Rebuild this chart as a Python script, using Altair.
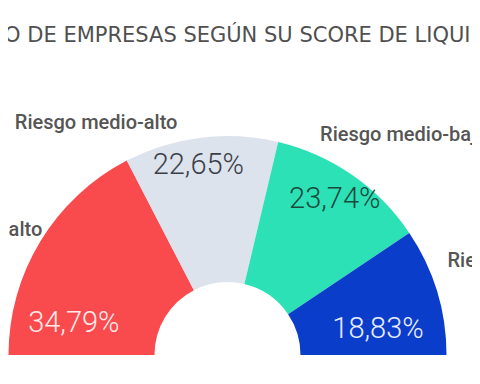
import math
import altair as alt
import pandas as pd

# ---- data -------------------------------------------------------------
titulo = "REPARTO DE EMPRESAS SEGÚN SU SCORE DE LIQUIDEZ"
categorias = ["Riesgo alto", "Riesgo medio-alto", "Riesgo medio-bajo", "Riesgo bajo"]
porcentajes = [34.79, 22.65, 23.74, 18.83]
etiquetas = ["34,79%", "22,65%", "23,74%", "18,83%"]
colores = ["#F94B4E", "#DDE3EC", "#2DE1B6", "#0B3DCB"]

# ---- layout -----------------------------------------------------------
W, H = 464, 356
CX, CY = 219.5, 347
R_OUT, R_IN = 219, 73
GRIS = "#555555"

df = pd.DataFrame({
    "categoria": categorias,
    "valor": porcentajes,
    "etiqueta": etiquetas,
    "orden": list(range(len(categorias))),
})
total = float(sum(porcentajes))
theta_scale = alt.Scale(domain=[0, total], range=[-math.pi / 2, math.pi / 2])

base = alt.Chart(df).encode(x=alt.value(CX), y=alt.value(CY))

arcos = base.mark_arc(innerRadius=R_IN, outerRadius=R_OUT).encode(
    theta=alt.Theta("valor:Q", stack=True, scale=theta_scale),
    color=alt.Color("categoria:N",
                    scale=alt.Scale(domain=categorias, range=colores),
                    legend=None),
    order=alt.Order("orden:Q"),
)

medios = base.transform_window(
    acum="sum(valor)", sort=[alt.SortField("orden")]
).transform_calculate(medio="datum.acum - datum.valor / 2")


def texto(cat, campo, radio, color, dx, dy, align, baseline, size, weight):
    return medios.transform_filter(alt.datum.categoria == cat).mark_text(
        radius=radio, dx=dx, dy=dy, align=align, baseline=baseline,
        fontSize=size, fontWeight=weight, font="Roboto", color=color,
    ).encode(
        theta=alt.Theta("medio:Q", stack=False, scale=theta_scale),
        text=f"{campo}:N",
    )


capas = [
    # percentages inside the slices
    texto("Riesgo alto", "etiqueta", 150, "#FFE9E9", -25.5, 45.5, "center", "middle", 29, 300),
    texto("Riesgo medio-alto", "etiqueta", 190, "#3B4048", -6, -1, "center", "middle", 29, 300),
    texto("Riesgo medio-bajo", "etiqueta", 190, "#1B4A3E", -1, 0, "center", "middle", 29, 300),
    texto("Riesgo bajo", "etiqueta", 150, "#E8EEFF", 7, 18, "center", "middle", 29, 300),
    # category names outside
    texto("Riesgo alto", "categoria", 230, GRIS, 11.3, 0.5, "right", "alphabetic", 20, 500),
    texto("Riesgo medio-alto", "categoria", 230, GRIS, -22, 2.6, "right", "alphabetic", 20, 500),
    texto("Riesgo medio-bajo", "categoria", 230, GRIS, -38.5, -25.3, "left", "alphabetic", 20, 500),
    texto("Riesgo bajo", "categoria", 230, GRIS, 0, -20.7, "left", "alphabetic", 20, 500),
]

cabecera = alt.Chart(pd.DataFrame({"t": [titulo]})).mark_text(
    font="DejaVu Sans", fontSize=21, color="#505050", align="center", baseline="alphabetic"
).encode(text="t:N", x=alt.value(211.5), y=alt.value(34.3))

chart = alt.layer(arcos, *capas, cabecera).properties(
    width=W, height=H,
    autosize=alt.AutoSizeParams(type="none"),
    padding=0,
).configure_view(stroke="transparent")

chart.save("out.html", embed_options={"renderer": "svg", "actions": False})
